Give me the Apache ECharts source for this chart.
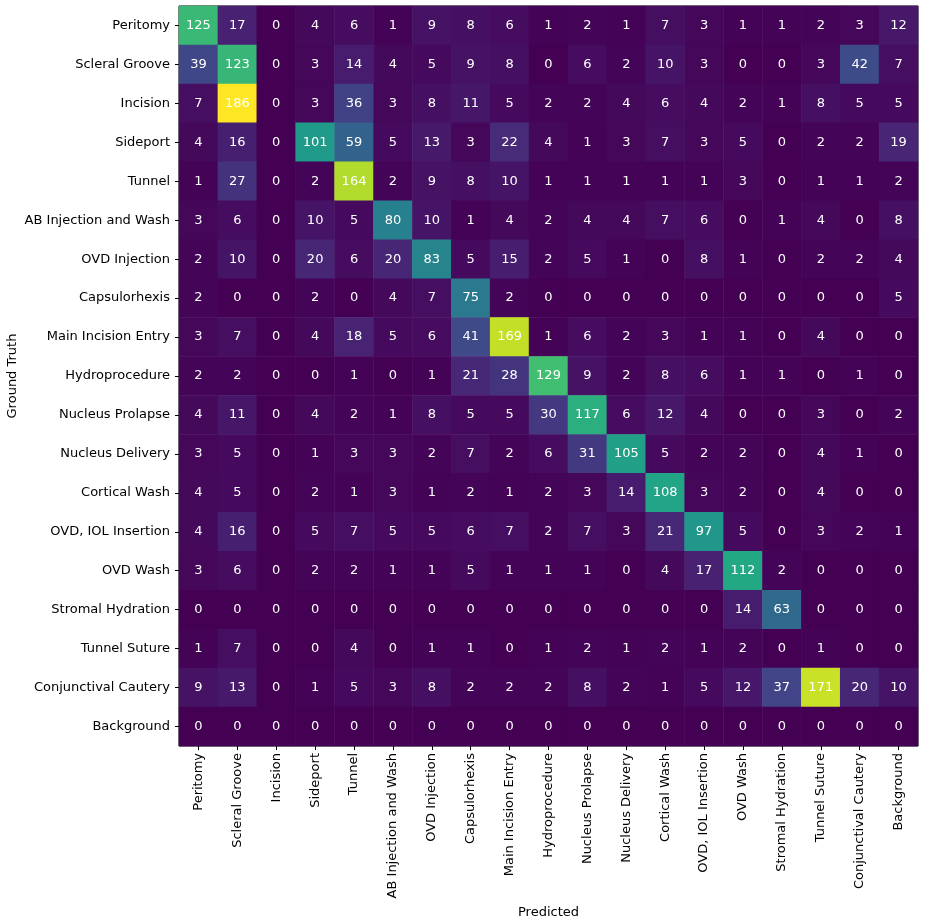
<!DOCTYPE html>
<html>
<head>
<meta charset="utf-8">
<script src="https://cdn.jsdelivr.net/npm/echarts@6/dist/echarts.min.js"></script>
<style>
  html, body { margin: 0; padding: 0; background: #fff; }
  #chart { width: 925px; height: 923px; }
</style>
</head>
<body>
<div id="chart"></div>
<script>
var classes = ['Peritomy', 'Scleral Groove', 'Incision', 'Sideport', 'Tunnel',
  'AB Injection and Wash', 'OVD Injection', 'Capsulorhexis', 'Main Incision Entry',
  'Hydroprocedure', 'Nucleus Prolapse', 'Nucleus Delivery', 'Cortical Wash',
  'OVD, IOL Insertion', 'OVD Wash', 'Stromal Hydration', 'Tunnel Suture',
  'Conjunctival Cautery', 'Background'];

// rows = ground truth, columns = predicted
var matrix = [
  [125, 17, 0, 4, 6, 1, 9, 8, 6, 1, 2, 1, 7, 3, 1, 1, 2, 3, 12],
  [39, 123, 0, 3, 14, 4, 5, 9, 8, 0, 6, 2, 10, 3, 0, 0, 3, 42, 7],
  [7, 186, 0, 3, 36, 3, 8, 11, 5, 2, 2, 4, 6, 4, 2, 1, 8, 5, 5],
  [4, 16, 0, 101, 59, 5, 13, 3, 22, 4, 1, 3, 7, 3, 5, 0, 2, 2, 19],
  [1, 27, 0, 2, 164, 2, 9, 8, 10, 1, 1, 1, 1, 1, 3, 0, 1, 1, 2],
  [3, 6, 0, 10, 5, 80, 10, 1, 4, 2, 4, 4, 7, 6, 0, 1, 4, 0, 8],
  [2, 10, 0, 20, 6, 20, 83, 5, 15, 2, 5, 1, 0, 8, 1, 0, 2, 2, 4],
  [2, 0, 0, 2, 0, 4, 7, 75, 2, 0, 0, 0, 0, 0, 0, 0, 0, 0, 5],
  [3, 7, 0, 4, 18, 5, 6, 41, 169, 1, 6, 2, 3, 1, 1, 0, 4, 0, 0],
  [2, 2, 0, 0, 1, 0, 1, 21, 28, 129, 9, 2, 8, 6, 1, 1, 0, 1, 0],
  [4, 11, 0, 4, 2, 1, 8, 5, 5, 30, 117, 6, 12, 4, 0, 0, 3, 0, 2],
  [3, 5, 0, 1, 3, 3, 2, 7, 2, 6, 31, 105, 5, 2, 2, 0, 4, 1, 0],
  [4, 5, 0, 2, 1, 3, 1, 2, 1, 2, 3, 14, 108, 3, 2, 0, 4, 0, 0],
  [4, 16, 0, 5, 7, 5, 5, 6, 7, 2, 7, 3, 21, 97, 5, 0, 3, 2, 1],
  [3, 6, 0, 2, 2, 1, 1, 5, 1, 1, 1, 0, 4, 17, 112, 2, 0, 0, 0],
  [0, 0, 0, 0, 0, 0, 0, 0, 0, 0, 0, 0, 0, 0, 14, 63, 0, 0, 0],
  [1, 7, 0, 0, 4, 0, 1, 1, 0, 1, 2, 1, 2, 1, 2, 0, 1, 0, 0],
  [9, 13, 0, 1, 5, 3, 8, 2, 2, 2, 8, 2, 1, 5, 12, 37, 171, 20, 10],
  [0, 0, 0, 0, 0, 0, 0, 0, 0, 0, 0, 0, 0, 0, 0, 0, 0, 0, 0]
];

var viridis = ['#440154', '#482475', '#414487', '#355f8d', '#2a788e', '#21918c',
  '#22a884', '#44bf70', '#7ad151', '#bddf26', '#fde725'];

var cells = [];
matrix.forEach(function (row, r) {
  row.forEach(function (v, c) { cells.push([c, r, v]); });
});

var maxVal = Math.max.apply(null, matrix.map(function (r) { return Math.max.apply(null, r); }));

var myChart = echarts.init(document.getElementById('chart'));
var font = 'DejaVu Sans';

var option = {
  backgroundColor: '#fff',
  animation: false,
  textStyle: { fontFamily: font },
  grid: {
    left: 179, top: 6, width: 739, height: 740,
    containLabel: false,
    outerBoundsMode: 'none',
    show: true, borderColor: '#000', borderWidth: 1, backgroundColor: 'transparent'
  },
  xAxis: {
    type: 'category',
    data: classes,
    name: 'Predicted',
    nameLocation: 'middle',
    nameGap: 160,
    nameMoveOverlap: false,
    nameTextStyle: { color: '#000', fontSize: 13, fontFamily: font },
    axisLine: { show: false },
    axisTick: { show: true, alignWithLabel: true, length: 4, lineStyle: { color: '#000' } },
    axisLabel: { rotate: 90, interval: 0, color: '#000', fontSize: 13, fontFamily: font, margin: 7 },
    splitLine: { show: false }
  },
  yAxis: {
    type: 'category',
    data: classes,
    inverse: true,
    name: 'Ground Truth',
    nameLocation: 'middle',
    nameGap: 160,
    nameRotate: 90,
    nameMoveOverlap: false,
    nameTextStyle: { color: '#000', fontSize: 13, fontFamily: font },
    axisLine: { show: false },
    axisTick: { show: true, alignWithLabel: true, length: 4, lineStyle: { color: '#000' } },
    axisLabel: { interval: 0, color: '#000', fontSize: 13, fontFamily: font, margin: 9 },
    splitLine: { show: false }
  },
  visualMap: {
    show: false,
    min: 0,
    max: maxVal,
    inRange: { color: viridis }
  },
  series: [{
    type: 'heatmap',
    data: cells,
    label: { show: true, color: '#fff', fontSize: 13, fontFamily: font },
    itemStyle: { borderWidth: 0 },
    emphasis: { disabled: true }
  }]
};

myChart.setOption(option);
</script>
</body>
</html>
